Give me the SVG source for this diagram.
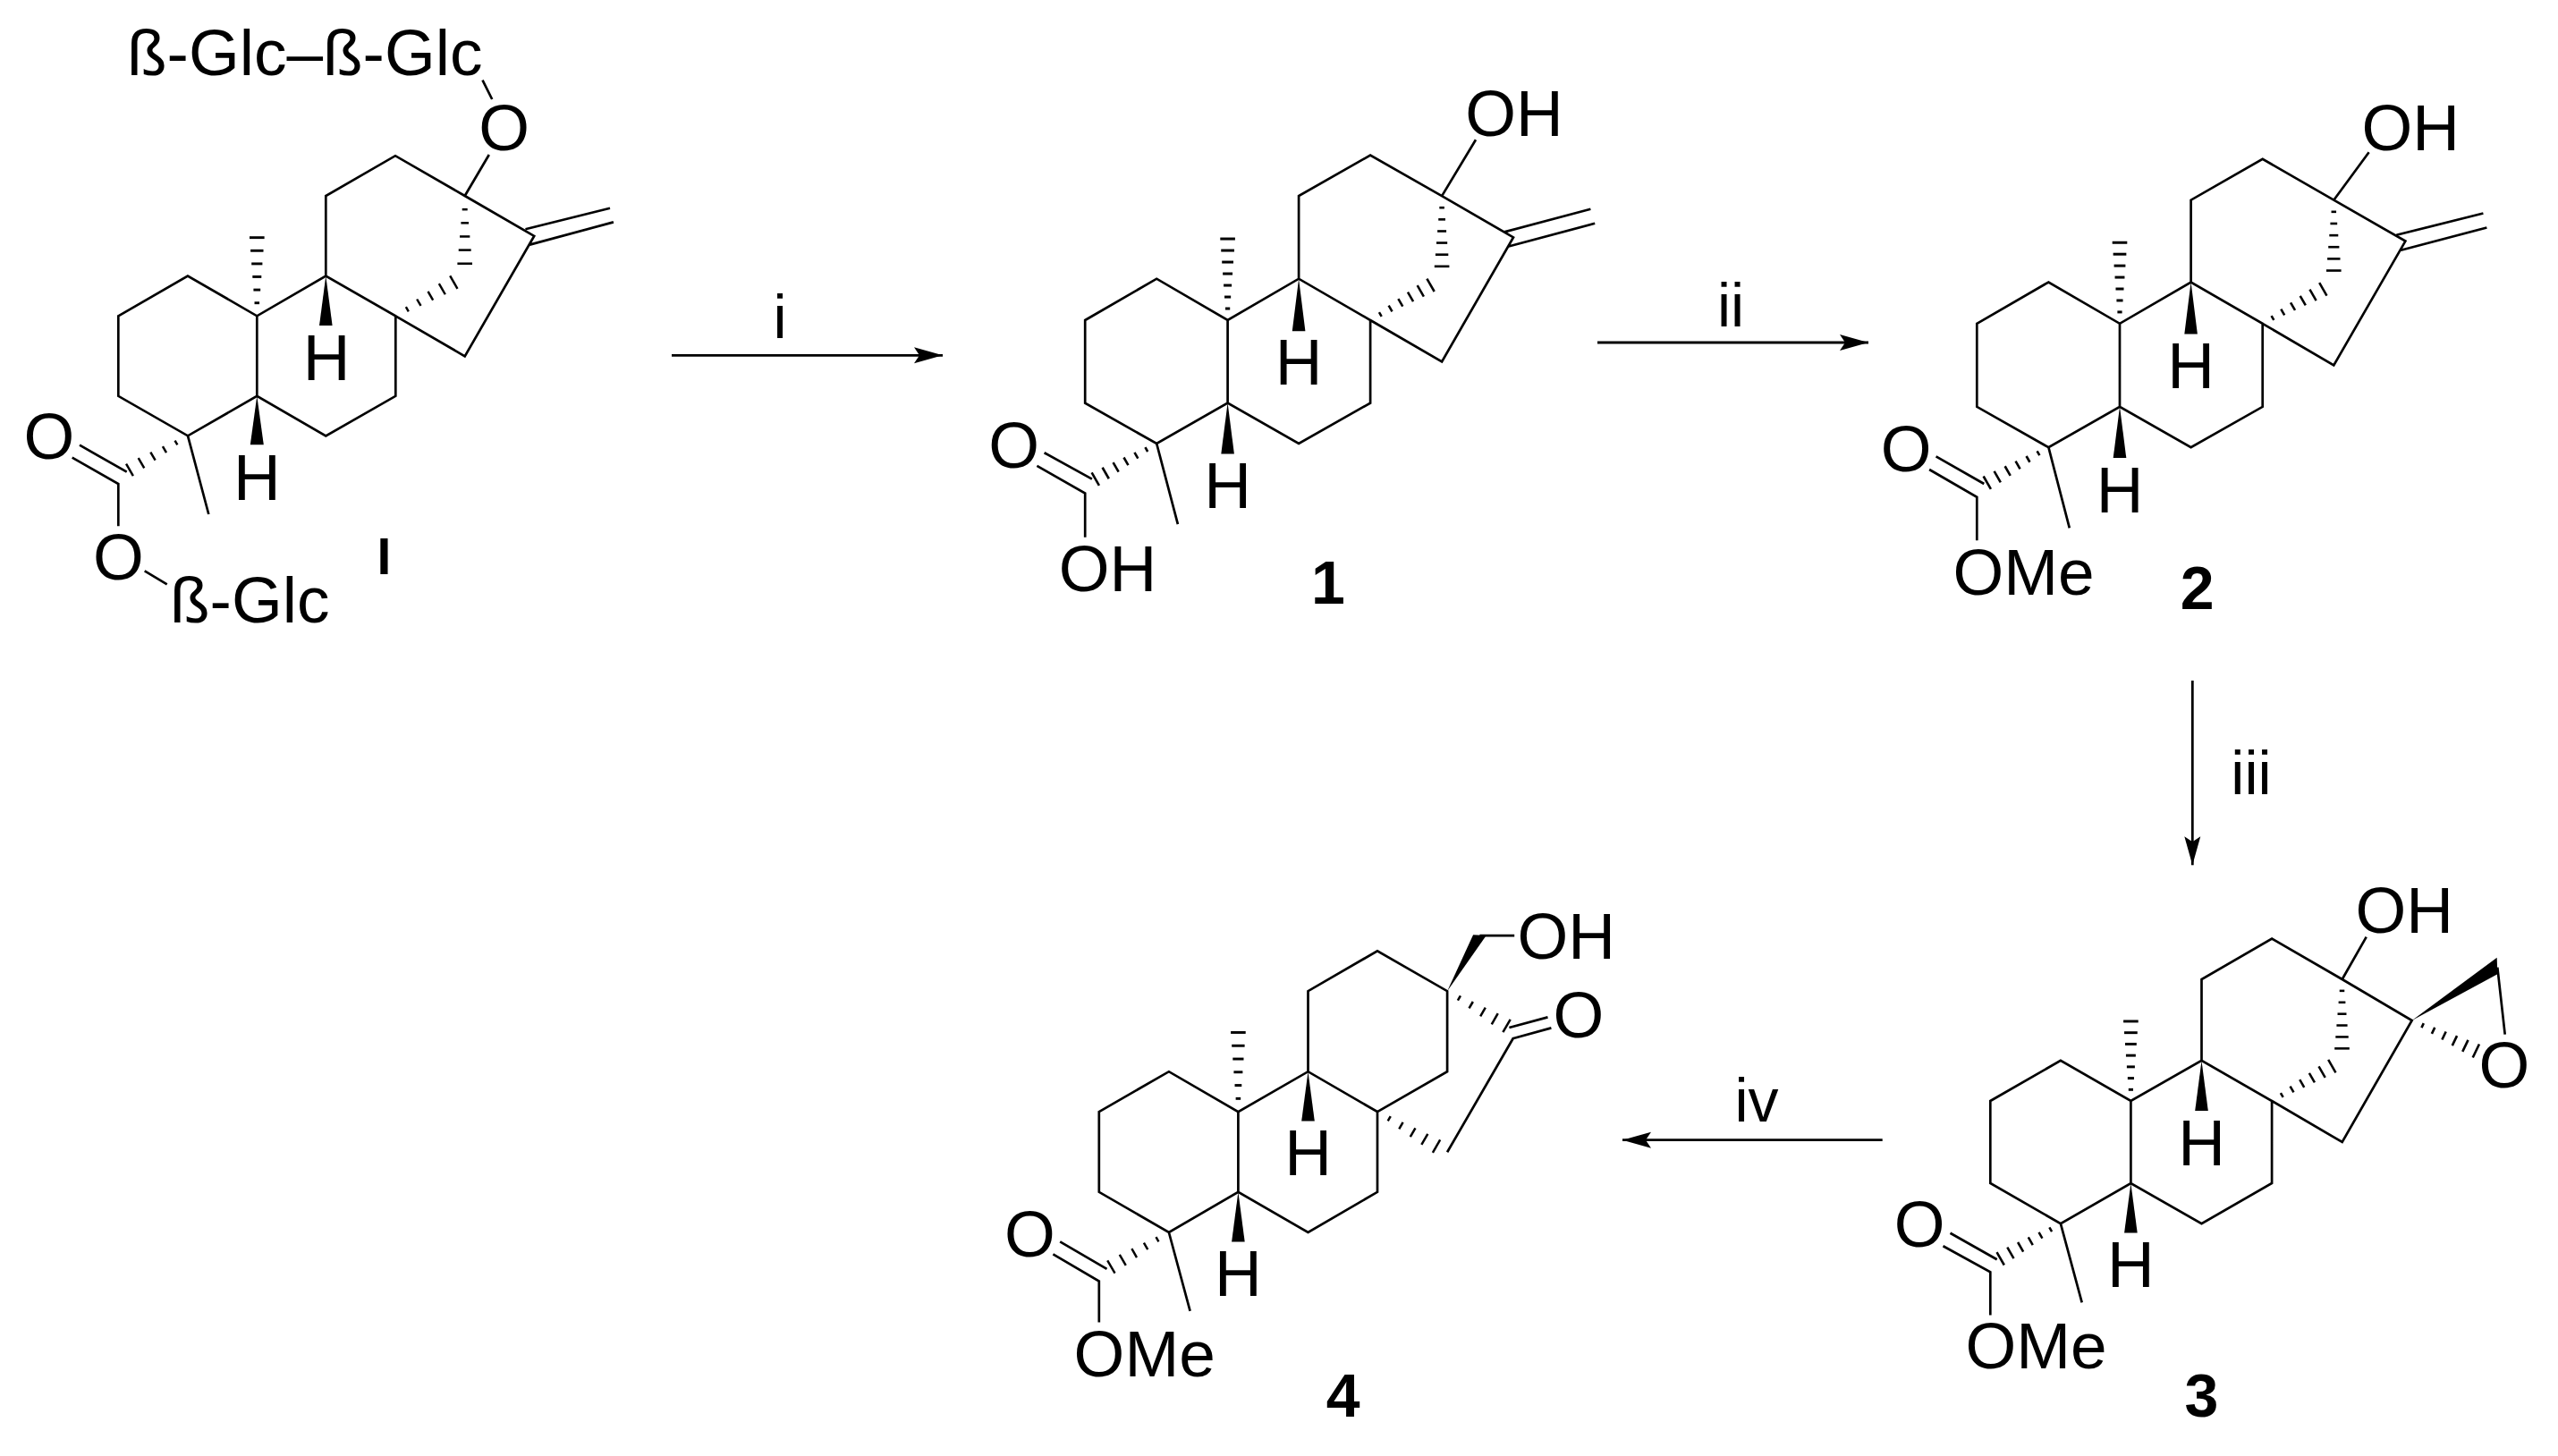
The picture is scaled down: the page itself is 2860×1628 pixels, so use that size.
<svg xmlns="http://www.w3.org/2000/svg" width="2860" height="1628" viewBox="0 0 2860 1628">
<style>
text{font-family:"Liberation Sans",Arial,sans-serif;font-size:73px;fill:#000}
.m{text-anchor:middle}
.lab{font-weight:bold;font-size:68px;text-anchor:middle}
.cond{font-size:68px;text-anchor:middle}
.b{fill:none;stroke:#000;stroke-width:2.7;stroke-linejoin:miter;stroke-linecap:butt}
.a{stroke:#000;stroke-width:2.8;fill:none}
.w{fill:#000}
</style>
<defs>
<g id="h5" class="w"><rect x=".184" y="-.36" width=".033" height=".72"/><rect x=".384" y="-.52" width=".033" height="1.04"/><rect x=".584" y="-.68" width=".033" height="1.36"/><rect x=".784" y="-.84" width=".033" height="1.68"/><rect x=".984" y="-1" width=".033" height="2"/></g>
<g id="h6" class="w"><rect x=".15" y="-.333" width=".033" height=".666"/><rect x=".317" y="-.467" width=".033" height=".934"/><rect x=".484" y="-.6" width=".033" height="1.2"/><rect x=".65" y="-.733" width=".033" height="1.466"/><rect x=".817" y="-.867" width=".033" height="1.734"/><rect x=".984" y="-1" width=".033" height="2"/></g>
<g id="h7" class="w"><rect x=".126" y="-.314" width=".033" height=".628"/><rect x=".269" y="-.429" width=".033" height=".858"/><rect x=".412" y="-.543" width=".033" height="1.086"/><rect x=".555" y="-.657" width=".033" height="1.314"/><rect x=".698" y="-.771" width=".033" height="1.542"/><rect x=".841" y="-.886" width=".033" height="1.772"/><rect x=".984" y="-1" width=".033" height="2"/></g>
<marker id="ah" markerUnits="userSpaceOnUse" markerWidth="34" markerHeight="20" refX="32" refY="10" orient="auto"><path d="M0 1 L32 10 L0 19 L6 10 Z" fill="#000"/></marker>
</defs>
<g id="connectors">
<path class="a" marker-end="url(#ah)" d="M751 397.3H1054"/>
<path class="a" marker-end="url(#ah)" d="M1786 383H2089"/>
<path class="a" marker-end="url(#ah)" d="M2451.3 761V967.3"/>
<path class="a" marker-end="url(#ah)" d="M2104.7 1274.7H1814"/>
</g>
<g id="conditions">
<text class="cond" x="872" y="378.3">i</text>
<text class="cond" x="1935" y="365">ii</text>
<text class="cond" x="2517" y="888.3">iii</text>
<text class="cond" x="1964" y="1254">iv</text>
</g>
<g id="compound-I">
<path class="b" d="M132.3 353.3L209.9 308.5L287.3 353.3L364.3 308.5L442.3 353.3V442.8L364.3 487.5L287.3 442.8L210 487.3L132.3 442.8ZM287.3 353.3V442.8M364.3 308.5V219L442 174.2L519.7 219L597.2 263.9L519.7 398.3L442.3 353.3M539.5 89.6L550.2 111M546.8 173L519.7 219M587.5 256.2L682 232.8M592.3 273.6L685.9 248.4M89 497.7L141.7 527.7M80.7 511.7L132.3 541V588.3M210 487.3L233.3 575M161.7 638.3L186.7 653.3"/>
<polygon class="w" points="364.3,308.5 371.6,364 357,364"/>
<polygon class="w" points="287.3,442.8 294.8,497.3 279.8,497.3"/>
<use href="#h6" transform="matrix(0 -87.6 8.3 0 287.3 353.3)"/>
<use href="#h5" transform="matrix(0 75.7 8.3 0 519.7 219)"/>
<use href="#h5" transform="matrix(65 -37.6 4.15 7.2 442.3 353.3)"/>
<use href="#h5" transform="matrix(-65 38 3.9 6.7 210 487.3)"/>
<text x="142" y="84">ß-Glc–ß-Glc</text>
<text class="m" x="563.7" y="168">O</text>
<text class="m" x="54.8" y="513.3">O</text>
<text class="m" x="132.3" y="648.3">O</text>
<text x="190" y="695.7">ß-Glc</text>
<text class="m" x="365" y="425">H</text>
<text class="m" x="287.3" y="558.7">H</text>
<text class="lab" x="429.3" y="642.3" style="font-size:57px">I</text>
</g>
<g id="compound-1">
<path class="b" d="M1213.2 358L1293.2 311.7L1372.6 358L1452.1 311.7L1532.1 358V450.6L1452.1 496L1372.6 450.6L1293.2 496L1213.2 450.6ZM1372.6 358V450.6M1452.1 311.7V219.1L1532.1 173.6L1612.1 219.1L1692 265.4L1612.1 404.3L1532.1 358M1650 156.3L1612.1 219.1M1681.9 259.4L1778.4 233.8M1686.8 275.5L1783.2 249.8M1167.6 506.2L1220.9 535.6M1159.4 520.9L1213.2 551.6V600.8M1293.2 496L1316.9 586.1"/>
<polygon class="w" points="1452.1,311.7 1459.4,370.2 1444.8,370.2"/>
<polygon class="w" points="1372.6,450.6 1379.9,507.4 1365.3,507.4"/>
<use href="#h7" transform="matrix(0 -90.9 8.3 0 1372.6 358)"/>
<use href="#h6" transform="matrix(0 78.7 8.3 0 1612.1 219.1)"/>
<use href="#h6" transform="matrix(67.4 -39.2 4.15 7.2 1532.1 358)"/>
<use href="#h6" transform="matrix(-68.4 39.6 4.15 7.2 1293.2 496)"/>
<text class="m" x="1693" y="151.8">OH</text>
<text class="m" x="1133.7" y="522.9">O</text>
<text class="m" x="1238.4" y="660.9">OH</text>
<text class="m" x="1452.1" y="430.4">H</text>
<text class="m" x="1372.6" y="568">H</text>
<text class="lab" x="1485" y="675.3">1</text>
</g>
<g id="compound-2">
<path class="b" d="M2210.3 361.8L2290.4 315.5L2370 361.8L2449.6 315.5L2529.7 361.8V454.8L2449.6 500.2L2370 454.8L2290.4 500.2L2210.3 454.8ZM2370 361.8V454.8M2449.6 315.5V223.7L2529.7 177.8L2609.3 223.7L2689.4 269.6L2609.3 408.4L2529.7 361.8M2648.6 170.3L2609.3 223.7M2679.4 262.8L2776.4 238.5M2684.4 279.7L2780.4 254.5M2164.6 510.3L2218.3 541M2157.1 525L2210.3 555.8V604.2M2290.4 500.2L2313.8 590.3"/>
<polygon class="w" points="2449.6,315.5 2456.9,373.6 2442.3,373.6"/>
<polygon class="w" points="2370,454.8 2377.3,512 2362.7,512"/>
<use href="#h7" transform="matrix(0 -90.5 8.3 0 2370 361.8)"/>
<use href="#h6" transform="matrix(0 78.8 8.3 0 2609.3 223.7)"/>
<use href="#h6" transform="matrix(67.6 -38.4 4.15 7.2 2529.7 361.8)"/>
<use href="#h6" transform="matrix(-68.6 39.5 4.15 7.2 2290.4 500.2)"/>
<text class="m" x="2695.3" y="168.2">OH</text>
<text class="m" x="2131.2" y="527.1">O</text>
<text class="m" x="2262.6" y="664.8">OMe</text>
<text class="m" x="2449.6" y="434.2">H</text>
<text class="m" x="2370" y="572.6">H</text>
<text class="lab" x="2456.6" y="680.8">2</text>
</g>
<g id="compound-3">
<path class="b" d="M2225.3 1231L2303.9 1185.9L2382.4 1231L2461.5 1185.9L2540.1 1231V1323L2461.5 1368.2L2382.4 1323L2303.9 1368.2L2225.3 1323ZM2382.4 1231V1323M2461.5 1185.9V1095L2540.1 1049.5L2618.7 1095L2696.7 1141L2618.7 1277L2540.1 1231M2645.7 1047.7L2618.7 1095M2792.3 1081.7L2800.7 1156.7M2180.5 1378.8L2232.7 1408.2M2172.5 1393.3L2225.3 1422.3V1470.5M2303.9 1368.2L2327.7 1456.4"/>
<polygon class="w" points="2696.7,1141 2791.7,1070.7 2792.3,1089.3"/>
<polygon class="w" points="2461.5,1185.9 2468.8,1242 2454.2,1242"/>
<polygon class="w" points="2382.4,1323 2389.7,1378.4 2375.1,1378.4"/>
<use href="#h7" transform="matrix(0 -89 8.3 0 2382.4 1231)"/>
<use href="#h6" transform="matrix(0 77.3 8.3 0 2618.5 1095)"/>
<use href="#h6" transform="matrix(67.2 -38.9 4.15 7.2 2540.1 1231)"/>
<use href="#h6" transform="matrix(71.6 34 -3.6 7.5 2696.7 1141)"/>
<use href="#h6" transform="matrix(-67.2 39.1 4.15 7.2 2303.9 1368.2)"/>
<text class="m" x="2688.3" y="1043.3">OH</text>
<text class="m" x="2800" y="1216.3">O</text>
<text class="m" x="2146.2" y="1393.7">O</text>
<text class="m" x="2276.5" y="1530">OMe</text>
<text class="m" x="2461.5" y="1303">H</text>
<text class="m" x="2382.4" y="1439.3">H</text>
<text class="lab" x="2461.5" y="1584.2">3</text>
</g>
<g id="compound-4">
<path class="b" d="M1228.8 1243.1L1306.9 1198.2L1384.4 1243.1L1462.5 1198.2L1540 1243.1V1332.8L1462.5 1378L1384.4 1332.8L1306.9 1378L1228.8 1332.8ZM1384.4 1243.1V1332.8M1462.5 1198.2V1108.2L1540 1063.3L1618.1 1108.2V1198.2L1540 1243.1M1692.2 1160.2L1618.1 1288.3M1654.4 1046.1H1693.2M1687.4 1149L1730.5 1137.4M1692.2 1161L1734.4 1149.4M1185.2 1388.4L1237.5 1418.9M1177.4 1402.4L1228.8 1432.5V1478.6M1306.9 1378L1330.6 1465.8"/>
<polygon class="w" points="1618.1,1108.2 1647.1,1045.3 1661.7,1046.1"/>
<polygon class="w" points="1462.5,1198.2 1469.8,1253.5 1455.2,1253.5"/>
<polygon class="w" points="1384.4,1332.8 1391.7,1388.4 1377.1,1388.4"/>
<use href="#h6" transform="matrix(0 -88.6 8.3 0 1384.4 1243.1)"/>
<use href="#h5" transform="matrix(66.4 38.8 -4.15 7.2 1618.1 1108.2)"/>
<use href="#h5" transform="matrix(66 38.5 -4.15 7.2 1540 1243.1)"/>
<use href="#h5" transform="matrix(-64.5 38.5 4.15 7.2 1306.9 1378)"/>
<text class="m" x="1751.3" y="1072.1">OH</text>
<text class="m" x="1765" y="1160.2">O</text>
<text class="m" x="1151.3" y="1404.5">O</text>
<text class="m" x="1279.7" y="1538.6">OMe</text>
<text class="m" x="1462.5" y="1314.3">H</text>
<text class="m" x="1384.4" y="1449.3">H</text>
<text class="lab" x="1501.7" y="1583.5">4</text>
</g>
</svg>
